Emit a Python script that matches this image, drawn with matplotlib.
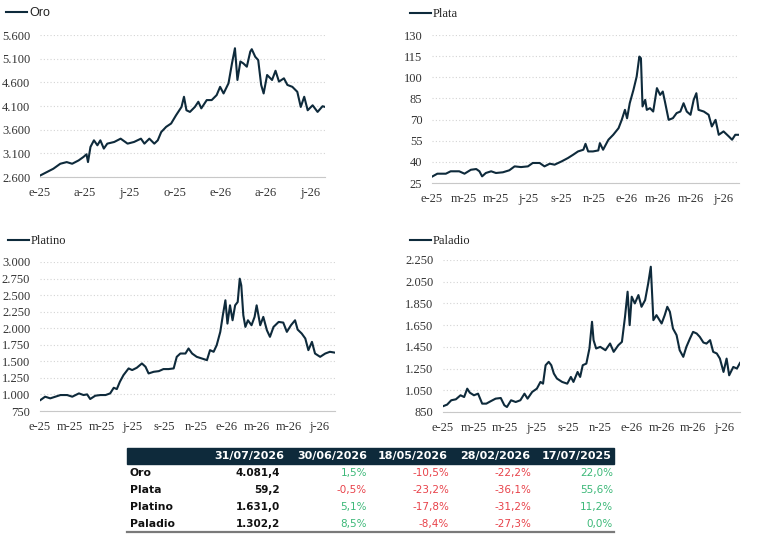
import matplotlib
matplotlib.use("Agg")
import matplotlib.pyplot as plt
import matplotlib.dates as mdates
from matplotlib.ticker import FuncFormatter
from matplotlib.patches import Rectangle
from matplotlib.lines import Line2D
import numpy as np
import pandas as pd

# --- series (date, price) ---
oro = [("2025-01-02", 2635), ("2025-01-15", 2705), ("2025-01-28", 2775), ("2025-02-11", 2880),
       ("2025-02-24", 2915), ("2025-03-07", 2880), ("2025-03-20", 2950), ("2025-03-30", 3025),
       ("2025-04-05", 3080), ("2025-04-08", 2915), ("2025-04-13", 3235), ("2025-04-20", 3375),
       ("2025-04-27", 3270), ("2025-05-03", 3375), ("2025-05-10", 3200), ("2025-05-17", 3305),
       ("2025-05-31", 3340), ("2025-06-13", 3410), ("2025-06-27", 3305), ("2025-07-10", 3340),
       ("2025-07-24", 3410), ("2025-07-31", 3305), ("2025-08-10", 3410), ("2025-08-20", 3305),
       ("2025-08-27", 3375), ("2025-09-03", 3550), ("2025-09-13", 3660), ("2025-09-23", 3730),
       ("2025-10-03", 3905), ("2025-10-14", 4080), ("2025-10-19", 4295), ("2025-10-24", 4010),
       ("2025-10-31", 3975), ("2025-11-10", 4080), ("2025-11-17", 4190), ("2025-11-23", 4050),
       ("2025-12-04", 4225), ("2025-12-14", 4225), ("2025-12-24", 4330), ("2025-12-31", 4505),
       ("2026-01-07", 4365), ("2026-01-17", 4580), ("2026-01-24", 5000), ("2026-01-30", 5320),
       ("2026-02-04", 4650), ("2026-02-10", 5040), ("2026-02-16", 5000), ("2026-02-23", 4930),
       ("2026-03-02", 5250), ("2026-03-05", 5300), ("2026-03-12", 5140), ("2026-03-18", 5070),
       ("2026-03-24", 4545), ("2026-03-29", 4365), ("2026-04-05", 4755), ("2026-04-15", 4650),
       ("2026-04-22", 4845), ("2026-04-29", 4615), ("2026-05-09", 4685), ("2026-05-16", 4545),
       ("2026-05-26", 4505), ("2026-06-05", 4400), ("2026-06-12", 4080), ("2026-06-19", 4295),
       ("2026-06-26", 4010), ("2026-07-06", 4115), ("2026-07-16", 3975), ("2026-07-26", 4095),
       ("2026-07-31", 4081)]

plata = [("2025-01-02", 29.7), ("2025-01-11", 31.6), ("2025-01-27", 31.6), ("2025-02-05", 33.3),
         ("2025-02-21", 33.3), ("2025-03-03", 31.6), ("2025-03-15", 34.4), ("2025-03-25", 34.9),
         ("2025-03-31", 33.3), ("2025-04-05", 29.7), ("2025-04-12", 32.1), ("2025-04-22", 33.3),
         ("2025-05-01", 32.1), ("2025-05-14", 32.6), ("2025-05-26", 34.0), ("2025-06-05", 36.8),
         ("2025-06-17", 36.3), ("2025-06-30", 36.8), ("2025-07-09", 39.2), ("2025-07-22", 39.2),
         ("2025-07-31", 36.8), ("2025-08-10", 38.7), ("2025-08-19", 38.0), ("2025-09-01", 40.3),
         ("2025-09-13", 42.7), ("2025-09-23", 45.1), ("2025-10-02", 47.4), ("2025-10-12", 48.6),
         ("2025-10-16", 52.8), ("2025-10-21", 47.4), ("2025-10-30", 47.4), ("2025-11-09", 48.1),
         ("2025-11-12", 53.3), ("2025-11-18", 48.6), ("2025-11-28", 55.7), ("2025-12-07", 59.2),
         ("2025-12-17", 63.9), ("2025-12-23", 69.8), ("2025-12-29", 76.9), ("2026-01-02", 70.9),
         ("2026-01-07", 81.6), ("2026-01-14", 91.1), ("2026-01-20", 100.5), ("2026-01-25", 114.7),
         ("2026-01-28", 113.5), ("2026-01-31", 79.3), ("2026-02-05", 84.0), ("2026-02-08", 76.9),
         ("2026-02-14", 78.1), ("2026-02-20", 75.7), ("2026-02-27", 92.3), ("2026-03-05", 87.5),
         ("2026-03-10", 89.9), ("2026-03-14", 82.8), ("2026-03-21", 69.8), ("2026-03-29", 71.0),
         ("2026-04-05", 74.6), ("2026-04-12", 75.7), ("2026-04-18", 81.6), ("2026-04-24", 75.7),
         ("2026-05-01", 73.4), ("2026-05-07", 84.0), ("2026-05-12", 88.7), ("2026-05-16", 76.9),
         ("2026-05-26", 75.7), ("2026-06-04", 73.4), ("2026-06-10", 65.1), ("2026-06-17", 69.8),
         ("2026-06-23", 59.2), ("2026-07-02", 61.6), ("2026-07-12", 58.0), ("2026-07-18", 55.7),
         ("2026-07-24", 59.2), ("2026-07-31", 59.2)]

platino = [("2025-01-02", 916), ("2025-01-11", 966), ("2025-01-21", 941), ("2025-01-31", 966),
           ("2025-02-10", 991), ("2025-02-23", 991), ("2025-03-05", 966), ("2025-03-18", 1016),
           ("2025-03-27", 991), ("2025-04-03", 1001), ("2025-04-09", 931), ("2025-04-19", 981),
           ("2025-04-29", 991), ("2025-05-09", 991), ("2025-05-18", 1016), ("2025-05-25", 1101),
           ("2025-05-31", 1081), ("2025-06-06", 1192), ("2025-06-13", 1292), ("2025-06-23", 1393),
           ("2025-06-30", 1368), ("2025-07-09", 1403), ("2025-07-19", 1468), ("2025-07-26", 1418),
           ("2025-08-01", 1317), ("2025-08-11", 1342), ("2025-08-21", 1352), ("2025-08-30", 1383),
           ("2025-09-09", 1383), ("2025-09-19", 1393), ("2025-09-25", 1568), ("2025-10-02", 1618),
           ("2025-10-12", 1618), ("2025-10-18", 1694), ("2025-10-25", 1618), ("2025-11-03", 1568),
           ("2025-11-13", 1543), ("2025-11-23", 1518), ("2025-11-29", 1669), ("2025-12-06", 1644),
           ("2025-12-12", 1744), ("2025-12-19", 1945), ("2025-12-24", 2196), ("2025-12-29", 2422),
           ("2026-01-02", 2070), ("2026-01-07", 2346), ("2026-01-12", 2120), ("2026-01-17", 2346),
           ("2026-01-22", 2396), ("2026-01-26", 2748), ("2026-01-29", 2647), ("2026-02-02", 2196),
           ("2026-02-06", 2020), ("2026-02-11", 2120), ("2026-02-18", 2045), ("2026-02-24", 2171),
           ("2026-02-28", 2346), ("2026-03-07", 2045), ("2026-03-13", 2171), ("2026-03-20", 1970),
           ("2026-03-26", 1870), ("2026-04-02", 2020), ("2026-04-12", 2095), ("2026-04-21", 2085),
           ("2026-04-28", 1945), ("2026-05-06", 2045), ("2026-05-14", 2120), ("2026-05-19", 1980),
           ("2026-05-27", 1920), ("2026-06-03", 1845), ("2026-06-09", 1669), ("2026-06-16", 1794),
           ("2026-06-22", 1618), ("2026-07-02", 1568), ("2026-07-12", 1618), ("2026-07-21", 1644),
           ("2026-07-31", 1631)]

paladio = [("2025-01-02", 905), ("2025-01-09", 918), ("2025-01-17", 958), ("2025-01-26", 967),
           ("2025-02-04", 1004), ("2025-02-11", 988), ("2025-02-17", 1065), ("2025-02-22", 1028),
           ("2025-03-02", 1004), ("2025-03-10", 1019), ("2025-03-18", 927), ("2025-03-26", 927),
           ("2025-04-03", 948), ("2025-04-13", 973), ("2025-04-23", 979), ("2025-04-30", 912),
           ("2025-05-05", 896), ("2025-05-13", 958), ("2025-05-22", 942), ("2025-05-31", 958),
           ("2025-06-08", 1019), ("2025-06-14", 973), ("2025-06-23", 1035), ("2025-07-02", 1065),
           ("2025-07-09", 1127), ("2025-07-14", 1111), ("2025-07-19", 1281), ("2025-07-25", 1312),
           ("2025-07-30", 1281), ("2025-08-04", 1204), ("2025-08-10", 1158), ("2025-08-20", 1127),
           ("2025-08-30", 1111), ("2025-09-06", 1173), ("2025-09-11", 1127), ("2025-09-19", 1219),
           ("2025-09-24", 1173), ("2025-09-29", 1281), ("2025-10-06", 1296), ("2025-10-12", 1435),
           ("2025-10-17", 1681), ("2025-10-20", 1512), ("2025-10-25", 1435), ("2025-11-02", 1450),
           ("2025-11-12", 1419), ("2025-11-21", 1481), ("2025-11-28", 1404), ("2025-12-07", 1465),
           ("2025-12-14", 1496), ("2025-12-20", 1727), ("2025-12-25", 1958), ("2025-12-29", 1650),
           ("2026-01-02", 1912), ("2026-01-08", 1850), ("2026-01-15", 1927), ("2026-01-21", 1819),
           ("2026-01-28", 1881), ("2026-02-03", 2035), ("2026-02-08", 2188), ("2026-02-13", 1696),
           ("2026-02-19", 1742), ("2026-03-01", 1665), ("2026-03-07", 1742), ("2026-03-12", 1819),
           ("2026-03-17", 1773), ("2026-03-23", 1619), ("2026-03-30", 1558), ("2026-04-05", 1419),
           ("2026-04-12", 1358), ("2026-04-18", 1450), ("2026-04-25", 1527), ("2026-05-01", 1588),
           ("2026-05-08", 1573), ("2026-05-14", 1542), ("2026-05-21", 1490), ("2026-05-27", 1480),
           ("2026-06-03", 1512), ("2026-06-09", 1404), ("2026-06-16", 1389), ("2026-06-22", 1342),
           ("2026-06-29", 1219), ("2026-07-05", 1342), ("2026-07-10", 1188), ("2026-07-18", 1265),
           ("2026-07-25", 1250), ("2026-07-31", 1302)]

# --- summary table ---
table_cols = ["31/07/2026", "30/06/2026", "18/05/2026", "28/02/2026", "17/07/2025"]
table_rows = ["Oro", "Plata", "Platino", "Paladio"]
last_price = [4081.4, 59.2, 1631.0, 1302.2]
pct_change = [[1.5, -10.5, -22.2, 22.0],
              [-0.5, -23.2, -36.1, 55.6],
              [5.1, -17.8, -31.2, 11.2],
              [8.5, -8.4, -27.3, 0.0]]

W, H = 759, 539
NAVY = "#0e2a3b"
GREEN = "#3cb878"
RED = "#e8424a"
SERIF = "Liberation Serif"
months_es = ["e", "f", "m", "a", "m", "j", "j", "a", "s", "o", "n", "d"]

plt.rcParams["font.family"] = SERIF


def es_num(v, dec=1):
    s = f"{v:,.{dec}f}"
    return s.replace(",", "X").replace(".", ",").replace("X", ".")


def month_fmt(x, pos):
    d = mdates.num2date(x)
    return f"{months_es[d.month - 1]}-{d.year % 100:02d}"


def px_axes(left, top, right, bottom):
    return fig.add_axes([left / W, 1 - bottom / H, (right - left) / W, (bottom - top) / H])


fig = plt.figure(figsize=(W / 100, H / 100), dpi=100)

panels = [
    ("Oro", oro, (40, 35, 325, 177), (2600, 5600, 500), [1, 4, 7, 10], (6, 13), "Liberation Sans"),
    ("Plata", plata, (432, 35, 739, 183), (25, 130, 15), [1, 3, 5, 7, 9, 11], (410, 14), SERIF),
    ("Platino", platino, (40, 262, 335, 411), (750, 3000, 250), [1, 3, 5, 7, 9, 11], (8, 241), SERIF),
    ("Paladio", paladio, (443, 260, 740, 412), (850, 2250, 200), [1, 3, 5, 7, 9, 11], (410, 241), SERIF),
]

for name, series, rect, (ymin, ymax, step), tick_months, (lx, ly), lfont in panels:
    ax = px_axes(*rect)
    dates = pd.to_datetime([d for d, _ in series])
    vals = [v for _, v in series]
    ax.plot(dates, vals, color=NAVY, lw=1.5, label=name, solid_joinstyle="round")
    ax.set_xlim(pd.Timestamp("2025-01-01"), pd.Timestamp("2026-07-31"))
    ax.set_ylim(ymin, ymax)
    ax.set_yticks(np.arange(ymin, ymax + step / 2, step))
    ax.yaxis.set_major_formatter(FuncFormatter(lambda v, p: es_num(v, 0)))
    ax.xaxis.set_major_locator(mdates.MonthLocator(bymonth=tick_months))
    ax.xaxis.set_major_formatter(FuncFormatter(month_fmt))
    ax.grid(axis="y", color="#d4d4d4", lw=0.8, linestyle=(0, (1, 2)))
    ax.set_axisbelow(True)
    for s in ["top", "right", "left"]:
        ax.spines[s].set_visible(False)
    ax.spines["bottom"].set_color("#c8c8c8")
    ax.spines["bottom"].set_linewidth(0.8)
    ax.tick_params(length=0, labelsize=9, colors="#333333", pad=7)
    ax.legend(loc="center left", bbox_to_anchor=(lx / W, 1 - ly / H), bbox_transform=fig.transFigure,
              frameon=False, handlelength=1.7, handletextpad=0.15, borderpad=0, borderaxespad=0,
              prop={"family": lfont, "size": 9}, labelcolor="#222222")

# table
tl, tr = 127, 614
fig.patches.append(Rectangle((tl / W, 1 - 464 / H), (tr - tl) / W, 16 / H,
                             transform=fig.transFigure, color=NAVY, zorder=0))
head_right = [284, 367, 448, 530, 612]
val_right = [280, 367, 449, 531, 613]
for c, col in enumerate(table_cols):
    fig.text(head_right[c] / W, 1 - 456 / H, col, ha="right", va="center", color="white",
             fontsize=8, fontweight="bold", family="DejaVu Sans")
row_y = [473, 490, 507, 524]
for r, name in enumerate(table_rows):
    y = 1 - row_y[r] / H
    fig.text(130 / W, y, name, ha="left", va="center", fontsize=7.8, fontweight="bold",
             family="DejaVu Sans", color="#111111")
    fig.text(val_right[0] / W, y, es_num(last_price[r]), ha="right", va="center", fontsize=7.5,
             fontweight="bold", family="DejaVu Sans", color="#111111")
    for c, v in enumerate(pct_change[r]):
        fig.text(val_right[c + 1] / W, y, es_num(v) + "%", ha="right", va="center", fontsize=7.5,
                 family="DejaVu Sans", color=RED if v < 0 else GREEN)
fig.add_artist(Line2D([tl / W, tr / W], [1 - 532 / H, 1 - 532 / H], color="#7a7a7a", lw=1.6,
                      transform=fig.transFigure))

fig.savefig("out.png", dpi=100)
